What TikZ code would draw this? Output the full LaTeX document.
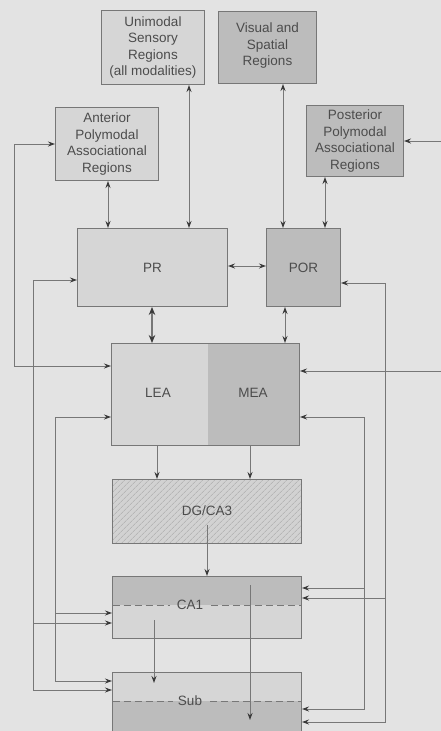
\documentclass[tikz,border=0pt]{standalone}
\usepackage{fontspec}
\setmainfont{Liberation Sans}
\usetikzlibrary{arrows.meta,patterns.meta}
\definecolor{bg}{HTML}{E3E3E3}
\definecolor{lightbox}{HTML}{D6D6D6}
\definecolor{darkbox}{HTML}{BCBCBC}
\definecolor{hatchbg}{HTML}{D2D2D2}
\definecolor{hatchln}{HTML}{A8A8A8}
\definecolor{edge}{HTML}{777777}
\definecolor{ink}{HTML}{4C4C4C}
\definecolor{tipc}{HTML}{3A3A3A}
\begin{document}
\begin{tikzpicture}[x=1pt,y=-1pt,
  box/.style={draw=edge, line width=1pt, inner sep=0pt, anchor=north west, align=center, text=ink,
              font=\fontsize{13.5}{16.5}\selectfont},
  lightb/.style={box, fill=lightbox},
  darkb/.style={box, fill=darkbox},
  lbl/.style={text=ink, font=\fontsize{13.5}{16.5}\selectfont, inner sep=1pt},
  conn/.style={draw=edge, line width=0.9pt},
  arrin/.style={-{Stealth[length=7pt,width=5pt,color=tipc]}},
  arrboth/.style={{Stealth[length=7pt,width=5pt,color=tipc]}-{Stealth[length=7pt,width=5pt,color=tipc]}},
  splitln/.style={draw=edge, line width=1pt, dash pattern=on 7pt off 4pt}]

\useasboundingbox (0,0) rectangle (441,731);
\fill[bg] (0,0) rectangle (441,731);

% top boxes
\node[lightb, minimum width=103pt, minimum height=74pt] (Uni) at (101,10)
  {Unimodal\\Sensory\\Regions\\(all modalities)};
\node[darkb, minimum width=98pt, minimum height=72pt, text depth=6pt] (Vis) at (218,11)
  {Visual and\\Spatial\\Regions};
\node[lightb, minimum width=103pt, minimum height=73pt] (Ant) at (55,107)
  {Anterior\\Polymodal\\Associational\\Regions};
\node[darkb, minimum width=97pt, minimum height=71pt] (Post) at (306,105)
  {Posterior\\Polymodal\\Associational\\Regions};

% PR / POR
\node[lightb, minimum width=150pt, minimum height=78pt] (PR) at (77,228) {PR};
\node[darkb, minimum width=74pt, minimum height=78pt] (POR) at (266,228) {POR};

% entorhinal
\node[box, draw=none, fill=lightbox, minimum width=96pt, minimum height=102pt] (LEA) at (111,343) {};
\node[box, draw=none, fill=darkbox, minimum width=92pt, minimum height=102pt] (MEA) at (207,343) {};
\node[box, minimum width=188pt, minimum height=102pt] (EA) at (111,343) {};
\node[lbl] (LEAlbl) at (158,393) {LEA};
\node[lbl] (MEAlbl) at (253,393) {MEA};

% DG/CA3
\node[box, minimum width=189pt, minimum height=64pt,
      preaction={fill=hatchbg},
      pattern={Lines[angle=45,distance=4pt,line width=0.6pt]}, pattern color=hatchln] (DG) at (112,479) {};
\node[lbl] (DGlbl) at (207,511) {DG/CA3};

% CA1
\node[lightb, minimum width=189pt, minimum height=62pt] (CA1) at (112,576) {};
\fill[darkbox] (112.5,576.5) rectangle (300.5,605);
\draw[splitln] (112.5,605) -- (170,605);
\draw[splitln] (211,605) -- (300.5,605);
\node[lbl] (CA1lbl) at (190,605) {CA1};
\draw[draw=edge, line width=1pt] (112,576) rectangle (301,638);

% Sub
\node[lightb, minimum width=189pt, minimum height=76pt] (Sub) at (112,672) {};
\fill[darkbox] (112.5,701) rectangle (300.5,747.5);
\draw[splitln] (112.5,701) -- (173,701);
\draw[splitln] (210,701) -- (300.5,701);
\node[lbl] (Sublbl) at (190,701) {Sub};
\draw[draw=edge, line width=1pt] (112,672) rectangle (301,748);

% vertical links top
\draw[conn,arrboth] (Uni.south -| 189,0) -- (PR.north -| 189,0);
\draw[conn,arrboth] (Ant.south -| 108,0) -- (PR.north -| 108,0);
\draw[conn,arrboth] (Vis.south -| 283,0) -- (POR.north -| 283,0);
\draw[conn,arrboth] (Post.south -| 325,0) -- (POR.north -| 325,0);
\draw[conn,arrboth] (PR.east |- 0,266) -- (POR.west |- 0,266);
\draw[conn,line width=1.2pt,{Stealth[length=8pt,width=6.5pt,color=tipc]}-{Stealth[length=8pt,width=6.5pt,color=tipc]}]
  (PR.south -| 152,0) -- (EA.north -| 152,0);
\draw[conn,arrboth] (POR.south -| 285,0) -- (EA.north -| 285,0);

% EA to DG, DG to CA1, CA1 to Sub
\draw[conn,arrin] (EA.south -| 157,0) -- (DG.north -| 157,0);
\draw[conn,arrin] (EA.south -| 250,0) -- (DG.north -| 250,0);
\coordinate (dgout) at (207,525);
\draw[conn,arrin] (dgout) -- (CA1.north -| dgout);
\coordinate (ca1a) at (154,620);
\coordinate (suba) at (154,683);
\draw[conn,arrin] (ca1a) -- (suba);
\coordinate (ca1b) at (250,585);
\coordinate (subb) at (250,720);
\draw[conn,arrin] (ca1b) -- (subb);

% left loops
\draw[conn,arrboth] (Ant.west) -| (14,366) -- (EA.west |- 0,366);
\draw[conn,arrboth] (PR.west |- 0,280) -| (33,690) -- (Sub.west |- 0,690);
\coordinate (l2b) at (33,623);
\draw[conn,arrin] (l2b) -- (CA1.west |- l2b);
\draw[conn,arrboth] (EA.west |- 0,417) -| (55,681) -- (Sub.west |- 0,681);
\coordinate (l3b) at (55,613);
\draw[conn,arrin] (l3b) -- (CA1.west |- l3b);

% right loops
\draw[conn,arrboth] (POR.east |- 0,283) -| (385,722) -- (Sub.east |- 0,722);
\coordinate (r2b) at (385,598);
\draw[conn,arrin] (r2b) -- (CA1.east |- r2b);
\draw[conn,arrboth] (EA.east |- 0,417) -| (364,709) -- (Sub.east |- 0,709);
\coordinate (r3b) at (364,588);
\draw[conn,arrin] (r3b) -- (CA1.east |- r3b);

% off-page inputs
\coordinate (redge1) at (441,141);
\coordinate (redge2) at (441,371);
\draw[conn,arrin] (redge1) -- (Post.east |- redge1);
\draw[conn,arrin] (redge2) -- (EA.east |- redge2);
\end{tikzpicture}
\end{document}
